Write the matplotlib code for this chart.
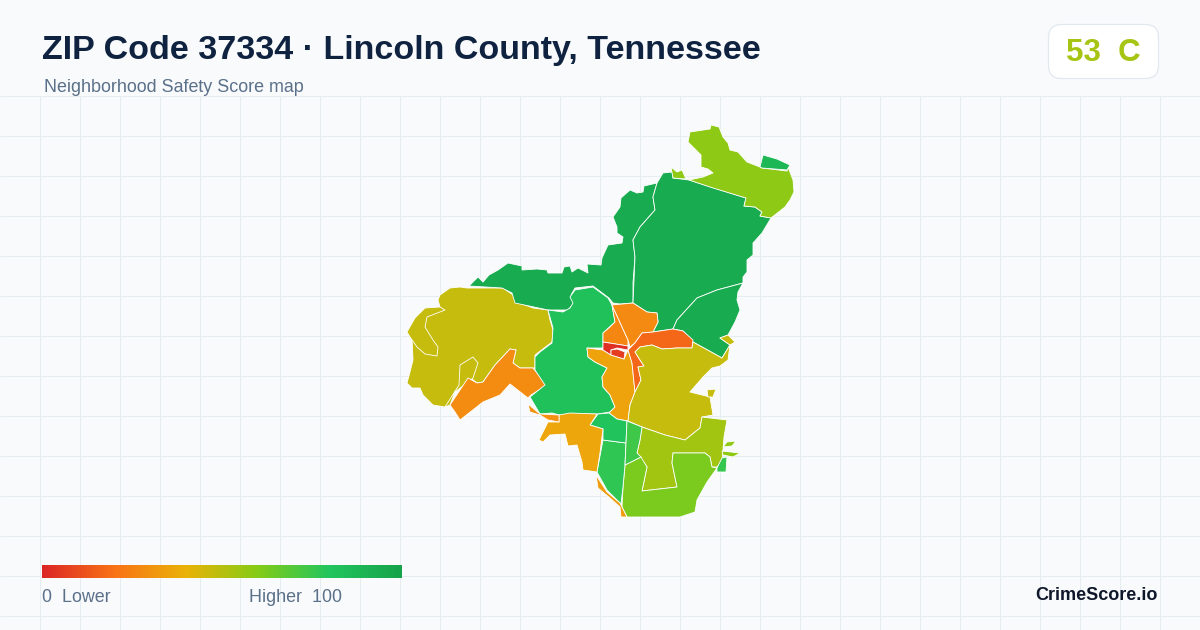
import numpy as np
import matplotlib
matplotlib.use("Agg")
import matplotlib.pyplot as plt
from matplotlib.colors import LinearSegmentedColormap, Normalize
from matplotlib.patches import FancyBboxPatch, Polygon

plt.rcParams["font.family"] = ["Liberation Sans", "DejaVu Sans"]

title = "ZIP Code 37334 · Lincoln County, Tennessee"
subtitle = "Neighborhood Safety Score map"
overall_score = 53
overall_grade = "C"

# legend colour stops
stop_values = [0, 20, 40, 60, 80, 100]
stop_colors = ["#dc2626", "#f97316", "#eab308", "#84cc16", "#22c55e", "#16a34a"]

# tract outlines, in map pixels, each with its score
west_big = [(440,295),(450,288),(460,287),(467,288),(503,288),(513,295),(517,302),(533,308),(548,310),(550,320),(553,330),(552,342),(535,355),(535,368),(520,368),(513,363),(516,350),(510,349),(495,365),(483,382),(477,383),(472,379),(455,392),(450,405),(445,407),(433,405),(423,395),(420,388),(412,388),(407,383),(410,372),(413,360),(412,338),(407,332),(415,318),(425,308),(440,307),(438,300)]
west_sliver = [(445,310),(427,317),(425,327),(433,340),(438,347),(437,356),(425,354),(417,347),(410,337),(407,332),(415,318),(425,308),(440,307)]
west_loop = [(473,357),(478,363),(473,378),(455,392),(450,405),(445,407),(459,385),(460,365)]
sw_orange = [(450,405),(468,378),(477,383),(483,382),(495,365),(510,349),(516,350),(513,363),(520,368),(533,368),(547,385),(531,395),(528,398),(510,384),(500,395),(483,402),(460,420),(455,412)]
nw_green = [(469,286),(478,277),(483,282),(489,275),(498,270),(508,263),(522,266),(522,270),(537,269),(547,270),(548,273),(562,273),(564,267),(570,266),(572,272),(578,268),(588,273),(587,264),(601,265),(602,258),(608,245),(622,243),(623,237),(617,233),(617,227),(613,217),(620,207),(621,198),(630,190),(637,193),(643,192),(644,186),(657,183),(653,197),(655,210),(640,227),(633,240),(635,257),(633,283),(633,303),(620,304),(613,303),(609,298),(593,286),(575,288),(571,295),(575,302),(568,310),(548,310),(515,303),(512,293),(502,288)]
north_green = [(657,183),(663,173),(672,172),(673,178),(689,180),(746,198),(744,206),(755,207),(762,212),(760,216),(771,218),(762,233),(753,243),(753,255),(747,260),(747,272),(743,277),(743,283),(717,290),(697,298),(677,320),(673,329),(653,332),(658,322),(657,313),(647,312),(633,303),(635,257),(633,240),(640,227),(655,210),(653,197)]
east_green = [(743,283),(738,292),(737,300),(740,310),(735,322),(728,335),(720,338),(730,345),(722,358),(693,342),(683,331),(673,329),(677,320),(697,298),(717,290)]
north_lime = [(688,142),(690,132),(710,129),(711,125),(719,127),(723,137),(728,143),(730,150),(738,152),(747,162),(760,167),(762,168),(787,171),(788,167),(793,180),(794,192),(790,200),(785,207),(771,218),(760,216),(762,212),(755,207),(744,206),(746,198),(713,188),(689,180),(703,177),(713,173),(708,169),(701,167),(701,155),(693,147)]
north_patch = [(760,167),(763,155),(777,159),(790,165),(787,170),(762,168)]
north_tip = [(671,167),(677,172),(682,170),(686,179),(673,178)]
center_west = [(608,298),(612,305),(615,322),(603,333),(603,348),(587,348),(588,357),(595,362),(607,368),(602,377),(603,387),(610,395),(615,407),(610,412),(598,414),(570,414),(563,416),(552,413),(540,414),(530,397),(545,385),(535,370),(535,357),(540,352),(552,343),(553,328),(548,310),(563,312),(570,308),(573,303),(570,297),(575,290),(593,287)]
center_amber = [(587,348),(603,350),(611,355),(624,359),(628,350),(632,363),(635,392),(630,405),(628,421),(617,419),(609,413),(615,407),(610,395),(603,387),(602,377),(607,368),(595,362),(588,357)]
town_north_a = [(612,305),(628,340),(628,346),(603,342),(603,333),(610,327),(615,322)]
town_north_b = [(612,305),(633,303),(647,312),(657,313),(658,322),(653,332),(642,333),(635,343),(630,347),(628,340)]
town_east = [(642,333),(653,332),(673,329),(683,331),(693,340),(692,348),(677,348),(662,349),(652,345),(640,347),(635,352),(640,360),(644,366),(638,367),(641,380),(635,392),(632,363),(628,350),(635,343)]
town_red = [(603,342),(628,346),(628,350),(617,348),(611,350),(611,355),(603,350)]
town_inner = [(611,350),(617,349),(625,352),(624,359),(611,355)]
se_olive = [(652,345),(662,349),(677,348),(692,348),(693,342),(722,358),(730,345),(728,360),(720,366),(712,368),(703,377),(690,392),(710,397),(713,415),(702,417),(700,428),(685,440),(665,435),(642,427),(628,421),(630,405),(635,392),(641,380),(638,367),(644,366),(640,360),(635,352),(640,347)]
se_tip = [(720,338),(728,335),(735,342),(730,345)]
se_speck = [(707,390),(716,389),(713,397),(708,397)]
south_ring = [(642,427),(665,435),(685,440),(700,428),(702,417),(727,420),(724,437),(723,450),(722,462),(717,467),(712,467),(710,457),(705,453),(673,453),(672,463),(677,487),(642,491),(647,467),(637,453),(640,440)]
south_lime = [(625,465),(641,457),(647,467),(642,491),(677,487),(672,463),(673,453),(705,453),(710,457),(712,467),(717,468),(707,482),(697,500),(695,512),(680,517),(627,517),(622,507),(623,487)]
south_strip = [(597,472),(603,440),(626,443),(625,465),(623,487),(621,504),(607,490)]
south_top = [(590,425),(598,414),(609,413),(617,419),(627,421),(626,443),(603,440),(603,429)]
south_mid = [(627,421),(642,427),(640,440),(637,453),(641,457),(625,465),(626,443)]
sw_amber = [(539,440),(548,422),(559,422),(559,415),(570,413),(597,414),(590,425),(603,429),(600,453),(597,472),(583,470),(582,462),(577,445),(568,446),(565,434),(550,435),(543,442)]
sw_thin = [(596,475),(607,492),(620,503),(627,517),(621,517),(620,507),(610,498),(598,488)]
sw_small = [(528,404),(540,414),(559,415),(559,422),(548,420),(540,415),(530,412)]
se_fleck_a = [(723,447),(727,442),(736,441),(732,446)]
se_fleck_b = [(722,451),(740,453),(733,457),(723,455)]
se_fleck_c = [(717,468),(722,458),(727,457),(726,472),(717,472)]

tracts = [
    (west_big, 47), (west_sliver, 47), (west_loop, 47), (sw_orange, 28),
    (nw_green, 95), (north_green, 95), (east_green, 95), (north_lime, 58),
    (north_patch, 88), (north_tip, 58), (center_west, 83), (center_amber, 35),
    (town_north_a, 26), (town_north_b, 27), (town_east, 17), (town_red, 2),
    (town_inner, 6), (se_olive, 47), (se_tip, 47), (se_speck, 47),
    (south_ring, 54), (south_lime, 62), (south_strip, 77), (south_top, 81),
    (south_mid, 74), (sw_amber, 36), (sw_thin, 33), (sw_small, 30),
    (se_fleck_a, 58), (se_fleck_b, 58), (se_fleck_c, 76),
]

cmap = LinearSegmentedColormap.from_list(
    "safety", [(v / 100, c) for v, c in zip(stop_values, stop_colors)]
)
norm = Normalize(0, 100)

fig = plt.figure(figsize=(12, 6.3), dpi=100, facecolor="#f8fafc")
ax = fig.add_axes([0, 0, 1, 1])
ax.set_facecolor("#f8fafc")

# background grid
ax.vlines(np.arange(40, 1200, 40), 96, 630, color="#e5edf1", lw=0.72, zorder=1)
ax.hlines(np.arange(96, 630, 40), 0, 1200, color="#e5edf1", lw=0.72, zorder=1)

for outline, score in tracts:
    ax.add_patch(
        Polygon(outline, closed=True, facecolor=cmap(norm(score)),
                edgecolor="white", lw=0.6, joinstyle="round", zorder=2)
    )

# legend bar
ax.imshow(np.linspace(0, 100, 360).reshape(1, -1), cmap=cmap, norm=norm,
          extent=(42, 402, 578, 565), aspect="auto", zorder=3)
ax.text(42, 597, "0  Lower", fontsize=12.9, color="#5b7089", va="center", ha="left")
ax.text(249, 597, "Higher  100", fontsize=12.9, color="#5b7089", va="center", ha="left")
ax.text(1158, 595, "CrimeScore.io", fontsize=13, fontweight="bold", color="#0f172a",
        va="center", ha="right")

# heading
ax.text(42, 51, title, fontsize=24.45, fontweight="bold", color="#0f2340", va="center", ha="left")
ax.text(44, 87, subtitle, fontsize=12.9, color="#5b7089", va="center", ha="left")

# score badge
ax.add_patch(
    FancyBboxPatch((1048.5, 24.5), 110, 54, boxstyle="round,pad=0,rounding_size=13",
                   facecolor="white", edgecolor="#e2e8f0", lw=0.9, zorder=4)
)
ax.text(1103, 53, f"{overall_score}  {overall_grade}", fontsize=22.5, fontweight="bold",
        color="#a6c413", va="center", ha="center", zorder=5)

ax.set_xlim(0, 1200)
ax.set_ylim(630, 0)
ax.axis("off")

fig.savefig("out.png", dpi=100, facecolor=fig.get_facecolor())
